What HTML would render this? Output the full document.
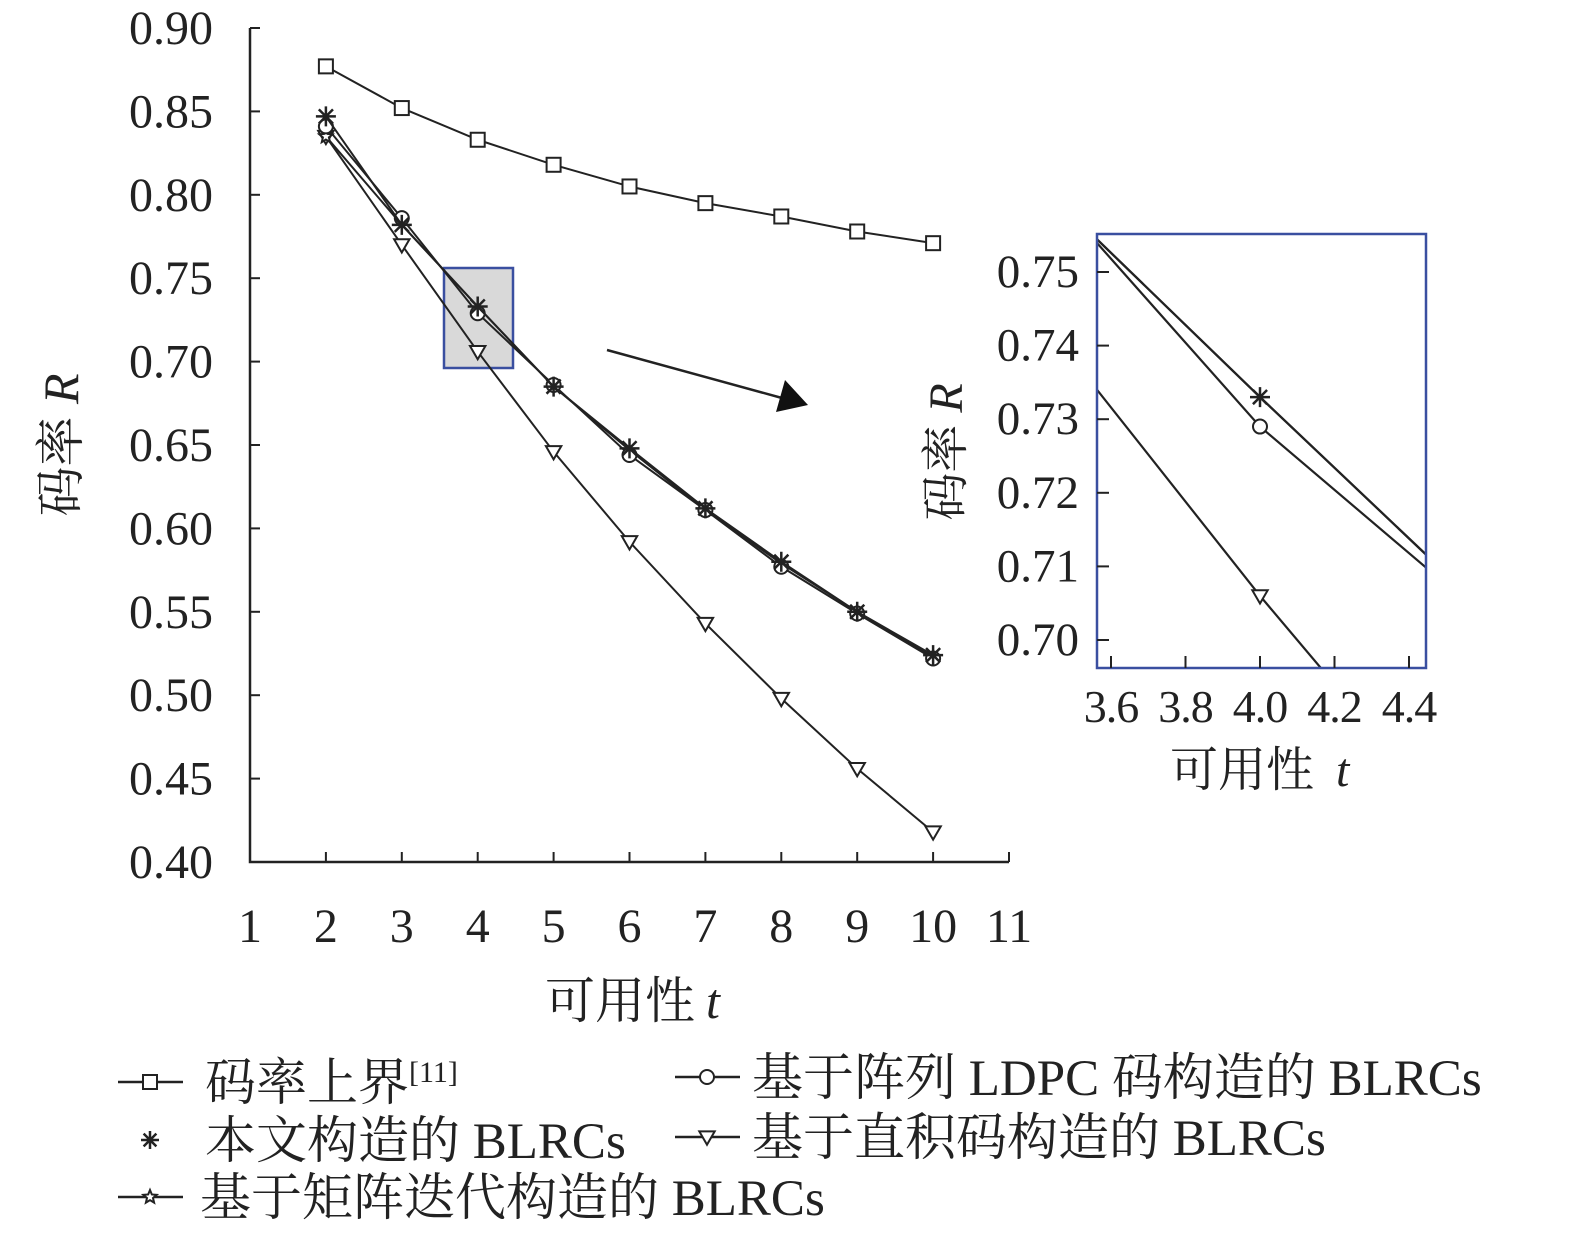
<!DOCTYPE html>
<html><head><meta charset="utf-8">
<style>
html,body{margin:0;background:#fff;overflow:hidden;width:1575px;height:1239px;}
svg{display:block;font-family:"Liberation Serif","Noto Serif CJK SC",serif;}
</style></head>
<body>
<svg id="chart" width="1575" height="1239" viewBox="0 0 1575 1239" xmlns="http://www.w3.org/2000/svg">
<g id="main"></g>
<g id="inset"></g>
<g id="legend"></g>
</svg>
<script>
const tValues = [2,3,4,5,6,7,8,9,10];
const upperBound = [0.877,0.852,0.833,0.818,0.805,0.795,0.787,0.778,0.771];
const thisPaper = [0.847,0.782,0.733,0.685,0.648,0.612,0.580,0.550,0.524];
const arrayLdpc = [0.841,0.786,0.729,0.686,0.644,0.611,0.577,0.549,0.522];
const matrixIter = [0.835,0.782,0.733,0.685,0.647,0.611,0.579,0.550,0.523];
const productCode = [0.835,0.770,0.706,0.646,0.592,0.543,0.498,0.456,0.418];
const xTicks = [1,2,3,4,5,6,7,8,9,10,11];
const yTicks = [0.40,0.45,0.50,0.55,0.60,0.65,0.70,0.75,0.80,0.85,0.90];
const insetXTicks = [3.6,3.8,4.0,4.2,4.4];
const insetYTicks = [0.70,0.71,0.72,0.73,0.74,0.75];

const NS="http://www.w3.org/2000/svg";
function mk(tag,attrs,parent,text){const e=document.createElementNS(NS,tag);for(const k in attrs)e.setAttribute(k,attrs[k]);if(text!==undefined)e.textContent=text;parent.appendChild(e);return e;}

function marker(g,type,x,y,s){
  let e;
  if(type==='square'){e=mk('rect',{x:x-s,y:y-s,width:2*s,height:2*s,fill:'#fff',stroke:'#222','stroke-width':2},g);}
  else if(type==='circle'){e=mk('circle',{cx:x,cy:y,r:s,fill:'#fff',stroke:'#222','stroke-width':2},g);}
  else if(type==='tri'){e=mk('path',{d:`M${x-s*1.1},${y-s*0.8}L${x+s*1.1},${y-s*0.8}L${x},${y+s*1.1}Z`,fill:'#fff',stroke:'#222','stroke-width':2},g);}
  else if(type==='ast'){let d='';for(let i=0;i<4;i++){const a=i*Math.PI/4;d+=`M${x-s*Math.cos(a)},${y-s*Math.sin(a)}L${x+s*Math.cos(a)},${y+s*Math.sin(a)}`;}e=mk('path',{d,stroke:'#222','stroke-width':2.5,fill:'none'},g);}
  else if(type==='star'){let d='';for(let i=0;i<10;i++){const a=-Math.PI/2+i*Math.PI/5;const r=i%2?s*0.45:s;d+=(i?'L':'M')+(x+r*Math.cos(a))+','+(y+r*Math.sin(a));}e=mk('path',{d:d+'Z',fill:'#fff',stroke:'#222','stroke-width':2},g);}
  
  
  return e;
}

const seriesDefs=[
 {name:'upper-bound',vals:upperBound,m:'square'},
 {name:'product-code',vals:productCode,m:'tri'},
 {name:'matrix-iter',vals:matrixIter,m:'star'},
 {name:'array-ldpc',vals:arrayLdpc,m:'circle'},
 {name:'this-paper',vals:thisPaper,m:'ast'}
];

// main plot
const main=document.getElementById('main');
const X=t=>250+(t-1)*75.9, Y=v=>862-(v-0.40)/0.5*834;
mk('rect',{x:444,y:268,width:69,height:100,fill:'#d9d9d9',stroke:'#3a4fa0','stroke-width':2.5},main);
mk('path',{d:'M250,28V862H1009',fill:'none',stroke:'#222','stroke-width':2.5},main);
xTicks.forEach(t=>{mk('line',{x1:X(t),x2:X(t),y1:862,y2:852,stroke:'#222','stroke-width':2},main);
 const l=mk('text',{x:X(t),y:942,'text-anchor':'middle','font-size':48,fill:'#222'},main,String(t));});
yTicks.forEach(v=>{mk('line',{x1:250,x2:260,y1:Y(v),y2:Y(v),stroke:'#222','stroke-width':2},main);
 const l=mk('text',{x:213,y:Y(v)+16,'text-anchor':'end','font-size':48,fill:'#222'},main,v.toFixed(2));});
seriesDefs.forEach(s=>{
 const g=mk('g',{},main);
 mk('polyline',{points:tValues.map((t,i)=>X(t)+','+Y(s.vals[i])).join(' '),fill:'none',stroke:'#222','stroke-width':2},g);
 tValues.forEach((t,i)=>{ if(s.m==='star' && i>0) return; marker(g,s.m,X(t),Y(s.vals[i]),s.m==='ast'?10:7);});
});
mk('text',{x:620,y:1018,'text-anchor':'middle','font-size':50,fill:'#222'},main,'可用性');
mk('text',{x:706,y:1018,'font-size':50,'font-style':'italic',fill:'#222'},main,'t');
const yt=mk('text',{transform:'translate(78,445) rotate(-90)','text-anchor':'middle','font-size':50,fill:'#222'},main);

mk('tspan',{},yt,'码率 ');mk('tspan',{'font-style':'italic'},yt,'R');
mk('line',{x1:607,y1:350,x2:782,y2:398,stroke:'#222','stroke-width':2.5},main);
mk('path',{d:'M808,405L776,412L785,380Z',fill:'#111'},main);

// inset
const ins=document.getElementById('inset');
const IX=t=>1111+(t-3.6)*372.5, IY=v=>640-(v-0.70)*7360;
const cp=mk('clipPath',{id:'ic'},ins);
mk('rect',{x:1097,y:234,width:329,height:434},cp);
const ig=mk('g',{'clip-path':'url(#ic)'},ins);
seriesDefs.forEach(s=>{
 const g=mk('g',{},ig);
 mk('polyline',{points:tValues.map((t,i)=>IX(t)+','+IY(s.vals[i])).join(' '),fill:'none',stroke:'#222','stroke-width':2.2},g);
 if(s.m!=='star') tValues.forEach((t,i)=>{ if(t===4) marker(g,s.m,IX(t),IY(s.vals[i]),s.m==='ast'?10:7);});
});
mk('rect',{x:1097,y:234,width:329,height:434,fill:'none',stroke:'#3a4fa0','stroke-width':2.5},ins);
insetXTicks.forEach(t=>{mk('line',{x1:IX(t),x2:IX(t),y1:668,y2:656,stroke:'#222','stroke-width':2},ins);
 mk('text',{x:IX(t),y:722,'text-anchor':'middle','font-size':46,'letter-spacing':-1,fill:'#222'},ins,t.toFixed(1));});
insetYTicks.forEach(v=>{mk('line',{x1:1097,x2:1109,y1:IY(v),y2:IY(v),stroke:'#222','stroke-width':2},ins);
 mk('text',{x:1079,y:IY(v)+15,'text-anchor':'end','font-size':47,fill:'#222'},ins,v.toFixed(2));});
mk('text',{x:1242,y:786,'text-anchor':'middle','font-size':48,fill:'#222'},ins,'可用性');
mk('text',{x:1336,y:786,'font-size':48,'font-style':'italic',fill:'#222'},ins,'t');
const it=mk('text',{transform:'translate(962,452) rotate(-90)','text-anchor':'middle','font-size':48,fill:'#222'},ins);
mk('tspan',{},it,'码率 ');mk('tspan',{'font-style':'italic'},it,'R');

// legend
const lg=document.getElementById('legend');
function entry(x,y,m,line,label,tx,sup){
 const g=mk('g',{},lg);
 if(line) mk('line',{x1:x,x2:x+65,y1:y,y2:y,stroke:'#222','stroke-width':2.5},g);
 marker(g,m,x+32,y,m==='ast'?9:7);
 const t=mk('text',{x:tx,y:y+18,'font-size':51,fill:'#222'},g,label);
 if(sup) mk('tspan',{dy:-18,'font-size':30},t,sup);
}
entry(118,1082,'square',true,'码率上界',205,'[11]');
entry(118,1140,'ast',false,'本文构造的 BLRCs',205);
entry(118,1197,'star',true,'基于矩阵迭代构造的 BLRCs',200);
entry(675,1077,'circle',true,'基于阵列 LDPC 码构造的 BLRCs',752);
entry(675,1137,'tri',true,'基于直积码构造的 BLRCs',752);
</script>
</body></html>
